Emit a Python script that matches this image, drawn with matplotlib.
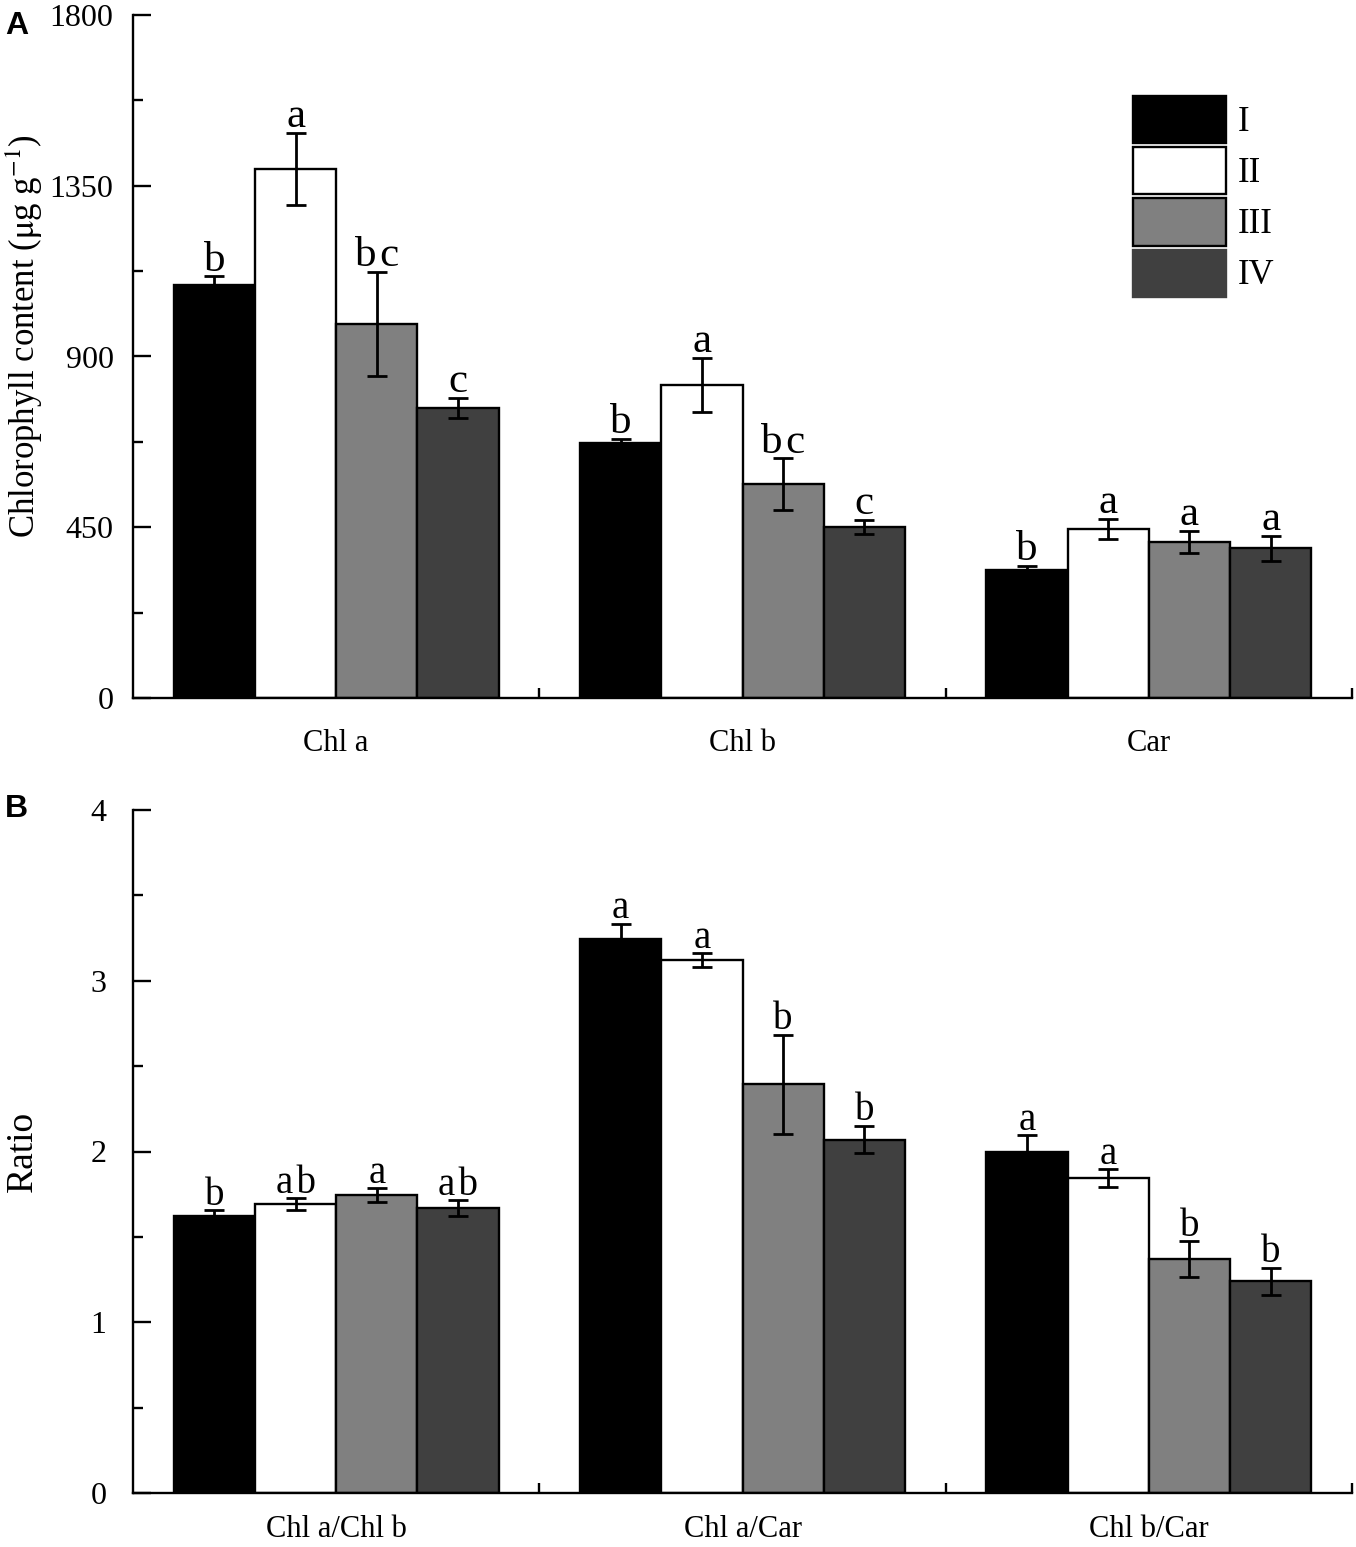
import numpy as np
import matplotlib
matplotlib.use("Agg")
import matplotlib.pyplot as plt
from matplotlib.patches import Patch

plt.rcParams['font.family'] = ['Liberation Serif', 'DejaVu Serif']
plt.rcParams['mathtext.fontset'] = 'stix'

treatments = ['I', 'II', 'III', 'IV']
colors = ['black', 'white', '#808080', '#404040']

# panel A: pigment content (ug g-1)
pigments = ['Chl a', 'Chl b', 'Car']
contentMean = [[1088, 672, 337],
               [1394, 825, 445],
               [986, 564, 411],
               [764, 451, 395]]
contentErr = [[24, 11, 11],
              [95, 71, 27],
              [137, 68, 30],
              [27, 18, 33]]
contentLetters = [['b', 'b', 'b'],
                  ['a', 'a', 'a'],
                  ['b\u200ac', 'b\u200ac', 'a'],
                  ['c', 'c', 'a']]

# panel B: ratios
ratios = ['Chl a/Chl b', 'Chl a/Car', 'Chl b/Car']
ratioMean = [[1.62, 3.245, 2.0],
             [1.69, 3.12, 1.845],
             [1.745, 2.395, 1.37],
             [1.67, 2.07, 1.24]]
ratioErr = [[0.035, 0.09, 0.095],
            [0.035, 0.04, 0.05],
            [0.04, 0.29, 0.105],
            [0.045, 0.08, 0.08]]
ratioLetters = [['b', 'a', 'a'],
                ['a\u200ab', 'a', 'a'],
                ['a', 'b', 'b'],
                ['a\u200ab', 'b', 'b']]

W, H = 1356, 1547
fig = plt.figure(figsize=(W / 100, H / 100), dpi=100)


def makeAxes(top_px, bottom_px):
    return fig.add_axes([133 / W, (H - bottom_px) / H, (1352 - 133) / W, (bottom_px - top_px) / H])


def drawPanel(ax, cats, means, errs, letters, ymax, major, minor, letterSize, ypad, xpad):
    x = np.arange(len(cats))
    width = 0.2
    for i in range(4):
        xs = x + (i - 1.5) * width
        ax.bar(xs, means[i], width, color=colors[i], edgecolor='black', linewidth=1.7, zorder=2)
        ax.errorbar(xs, means[i], yerr=errs[i], fmt='none', ecolor='black',
                    elinewidth=2, capsize=7, capthick=2, zorder=3)
        for j in range(len(cats)):
            ax.annotate(letters[i][j], (xs[j], means[i][j] + errs[i][j]),
                        xytext=(0, 4), textcoords='offset points',
                        ha='center', va='baseline', fontsize=letterSize)
    ax.set_xlim(-0.5, 2.5)
    ax.set_ylim(0, ymax)
    ax.spines['top'].set_visible(False)
    ax.spines['right'].set_visible(False)
    ax.spines['left'].set_linewidth(1.7)
    ax.spines['bottom'].set_linewidth(1.7)
    ax.set_yticks(np.arange(0, ymax + major / 2, major))
    ax.set_yticks(np.arange(0, ymax + minor / 2, minor), minor=True)
    ax.set_xticks(x, cats)
    ax.set_xticks([0.5, 1.5, 2.5], minor=True)
    ax.tick_params(axis='y', which='major', direction='in', length=13, width=1.7, labelsize=23, pad=ypad)
    ax.tick_params(axis='y', which='minor', direction='in', length=7, width=1.7)
    ax.tick_params(axis='x', which='major', length=0, labelsize=22, pad=xpad)
    ax.tick_params(axis='x', which='minor', direction='in', length=7, width=1.7)


axA = makeAxes(15, 698)
drawPanel(axA, pigments, contentMean, contentErr, contentLetters, 1800, 450, 225, 31, 14, 22)
axA.set_ylabel(r'Chlorophyll content ($\mathrm{\mu}$g g$^{-1}$)', fontsize=25)
axA.yaxis.set_label_coords(-0.072, 0.53)

handles = [Patch(facecolor=colors[i], edgecolor='black' if i < 3 else colors[i], linewidth=1.7)
           for i in range(4)]
axA.legend(handles, treatments, loc='upper left', bbox_to_anchor=(0.82, 0.881),
           frameon=False, fontsize=25, borderpad=0, borderaxespad=0,
           handlelength=2.68, handleheight=1.71, labelspacing=0.115, handletextpad=0.35)

axB = makeAxes(810, 1493)
drawPanel(axB, ratios, ratioMean, ratioErr, ratioLetters, 4, 1, 0.5, 28, 19, 16)
axB.set_ylabel('Ratio', fontsize=27)
axB.yaxis.set_label_coords(-0.076, 0.5)

fig.text(5 / W, 1 - 11 / H, 'A', family='Liberation Sans', weight='bold', fontsize=23, va='top')
fig.text(5 / W, 1 - 794 / H, 'B', family='Liberation Sans', weight='bold', fontsize=23, va='top')

fig.savefig('out.png', dpi=100)
